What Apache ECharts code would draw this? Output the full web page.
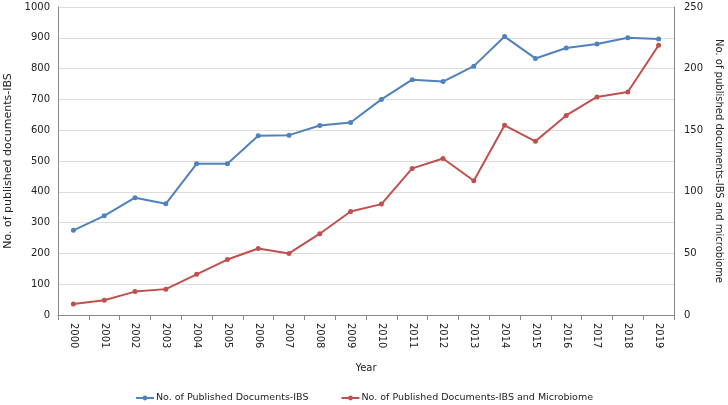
<!DOCTYPE html>
<html><head><meta charset="utf-8">
<script src="https://cdn.jsdelivr.net/npm/echarts@6/dist/echarts.min.js"></script>
<style>html,body{margin:0;padding:0;background:#fff}#c{width:728px;height:405px}</style>
</head><body><div id="c"></div>
<script>
const years = ['2000','2001','2002','2003','2004','2005','2006','2007','2008','2009','2010','2011','2012','2013','2014','2015','2016','2017','2018','2019'];
const ibsDocs = [275,322,381,361,491,491,582,584,615,625,700,764,758,808,904,833,867,880,900,896];
const ibsMicrobiomeDocs = [9,12,19,21,33,45,54,50,66,84,90,119,127,109,154,141,162,177,181,219];
const leftTicks = {min:0, max:1000, interval:100};
const rightTicks = {min:0, max:250, interval:50};
const font = 'DejaVu Sans';
const chart = echarts.init(document.getElementById('c'));
chart.setOption({
  animation:false,
  textStyle:{fontFamily:font},
  grid:{left:58,right:54,top:7,bottom:90,containLabel:false,outerBoundsMode:'none'},
  legend:{
    bottom:2, left:'center', padding:0, itemGap:32, itemWidth:18, itemHeight:6,
    textStyle:{fontFamily:font,fontSize:9.5,color:'#222',padding:[0,0,0,-3]},
    data:['No. of Published Documents-IBS','No. of Published Documents-IBS and Microbiome']
  },
  xAxis:{
    type:'category', data:years, boundaryGap:true,
    name:'Year', nameLocation:'middle', nameGap:48,
    nameTextStyle:{fontFamily:font,fontSize:10,color:'#222'},
    axisLine:{lineStyle:{color:'#888'}},
    axisTick:{show:true,alignWithLabel:false,length:5,lineStyle:{color:'#888'}},
    axisLabel:{rotate:-90,fontSize:10,color:'#222',margin:8,interval:0}
  },
  yAxis:[{
    type:'value', min:leftTicks.min, max:leftTicks.max, interval:leftTicks.interval,
    name:'No. of published documents-IBS', nameLocation:'middle', nameGap:40, nameRotate:90,
    nameTextStyle:{fontFamily:font,fontSize:11,color:'#222'},
    axisLine:{show:true,lineStyle:{color:'#888'}},
    axisTick:{show:false},
    axisLabel:{fontSize:10,color:'#222',margin:8,formatter:v=>String(v)},
    splitLine:{lineStyle:{color:'#dcdcdc'}}
  },{
    type:'value', min:rightTicks.min, max:rightTicks.max, interval:rightTicks.interval,
    position:'right',
    name:'No. of published documents-IBS and microbiome', nameLocation:'middle', nameGap:38, nameRotate:-90,
    nameTextStyle:{fontFamily:font,fontSize:10,color:'#222'},
    axisLine:{show:true,lineStyle:{color:'#888'}},
    axisTick:{show:false},
    axisLabel:{fontSize:10,color:'#222',margin:10,formatter:v=>String(v)},
    splitLine:{show:false}
  }],
  series:[{
    name:'No. of Published Documents-IBS', type:'line', yAxisIndex:0, data:ibsDocs,
    symbol:'circle', symbolSize:5,
    itemStyle:{color:'#4F81BD'}, lineStyle:{color:'#4F81BD',width:2}
  },{
    name:'No. of Published Documents-IBS and Microbiome', type:'line', yAxisIndex:1, data:ibsMicrobiomeDocs,
    symbol:'circle', symbolSize:5,
    itemStyle:{color:'#C0504D'}, lineStyle:{color:'#C0504D',width:2}
  }]
});
</script></body></html>
